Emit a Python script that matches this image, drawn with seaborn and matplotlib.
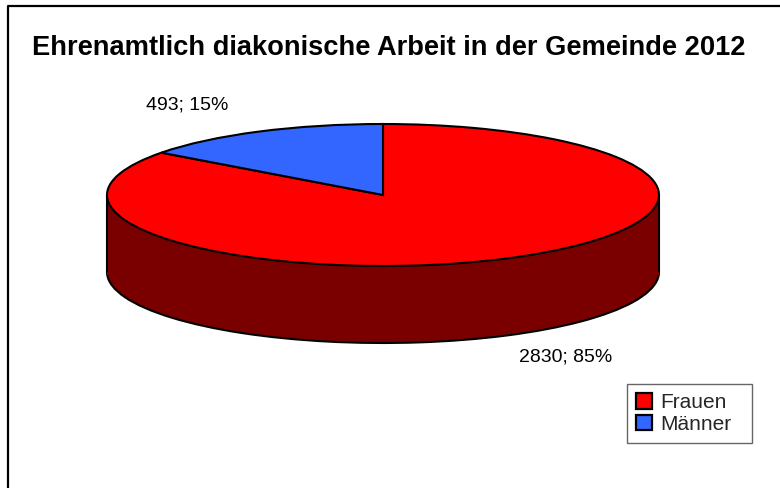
import matplotlib
matplotlib.use("Agg")
import matplotlib.pyplot as plt
import seaborn as sns
from matplotlib.patches import Patch
from matplotlib.lines import Line2D

# data
categories = ["Frauen", "Männer"]
counts = [2830, 493]
top_colors = ["#FF0000", "#3366FF"]
side_colors = ["#7A0000", "#1A3380"]
title = "Ehrenamtlich diakonische Arbeit in der Gemeinde 2012"

sns.set_theme(style="white")
plt.rcParams['font.family'] = ['Liberation Sans', 'DejaVu Sans']

W, H = 780, 488
fig = plt.figure(figsize=(W / 100, H / 100), dpi=100)
fig.patch.set_facecolor("white")

# pie geometry in pixels (centre, radii, depth of the 3d side)
cx, cy, rx, ry, depth, pad = 383, 195, 276, 71, 77, 12
d = depth / ry
ax = fig.add_axes([(cx - rx - pad) / W, (H - (cy + ry + depth + pad)) / H,
                   (2 * rx + 2 * pad) / W, (2 * ry + depth + 2 * pad) / H])

lw = 1.5
# bottom face of the cylinder
ax.pie(counts, colors=side_colors, startangle=90, counterclock=False, center=(0, -d),
       wedgeprops=dict(edgecolor="black", linewidth=lw, zorder=1))
# side band (reaches a little below the bottom centre to hide the wedge joints)
ax.fill_between([-1, 1], -d - 0.04, 0, color=side_colors[0], lw=0, zorder=2)
ax.vlines([-1, 1], -d, 0, colors="black", lw=lw, zorder=3)
# top face
ax.pie(counts, colors=top_colors, startangle=90, counterclock=False,
       wedgeprops=dict(edgecolor="black", linewidth=lw, zorder=4))
ax.set_aspect("auto")
ax.set_xlim(-1 - pad / rx, 1 + pad / rx)
ax.set_ylim(-1 - d - pad / ry, 1 + pad / ry)
ax.axis("off")

# data labels
total = sum(counts)
label_px = [(566, 357), (187, 105)]
for c, (px, py) in zip(counts, label_px):
    ax.text((px - cx) / rx, (cy - py) / ry, f"{c}; {round(100 * c / total)}%",
            ha="center", va="center", fontsize=14, color="black")

fig.text(389 / W, 1 - 55 / H, title, ha="center", va="baseline",
         fontsize=19.6, fontweight="bold", color="black")

# chart frame (right and bottom edges fall outside the picture)
fig.add_artist(Line2D([8 / W, 8 / W, 1.0], [0.0, 1 - 6 / H, 1 - 6 / H], color="black", lw=1.6))

handles = [Patch(facecolor=col, edgecolor="black", linewidth=1.6, label=cat)
           for cat, col in zip(categories, top_colors)]
leg = fig.legend(handles=handles, loc="upper left",
                 bbox_to_anchor=(627 / W, 1 - 447 / H, 125 / W, 63 / H), mode="expand",
                 frameon=True, fancybox=False, edgecolor="#404040", fontsize=15,
                 handlelength=0.75, handleheight=0.75, handletextpad=0.4,
                 labelspacing=0.12, borderpad=0.45, borderaxespad=0)
leg.get_frame().set_linewidth(1.0)

fig.savefig("out.png", dpi=100, facecolor="white")
